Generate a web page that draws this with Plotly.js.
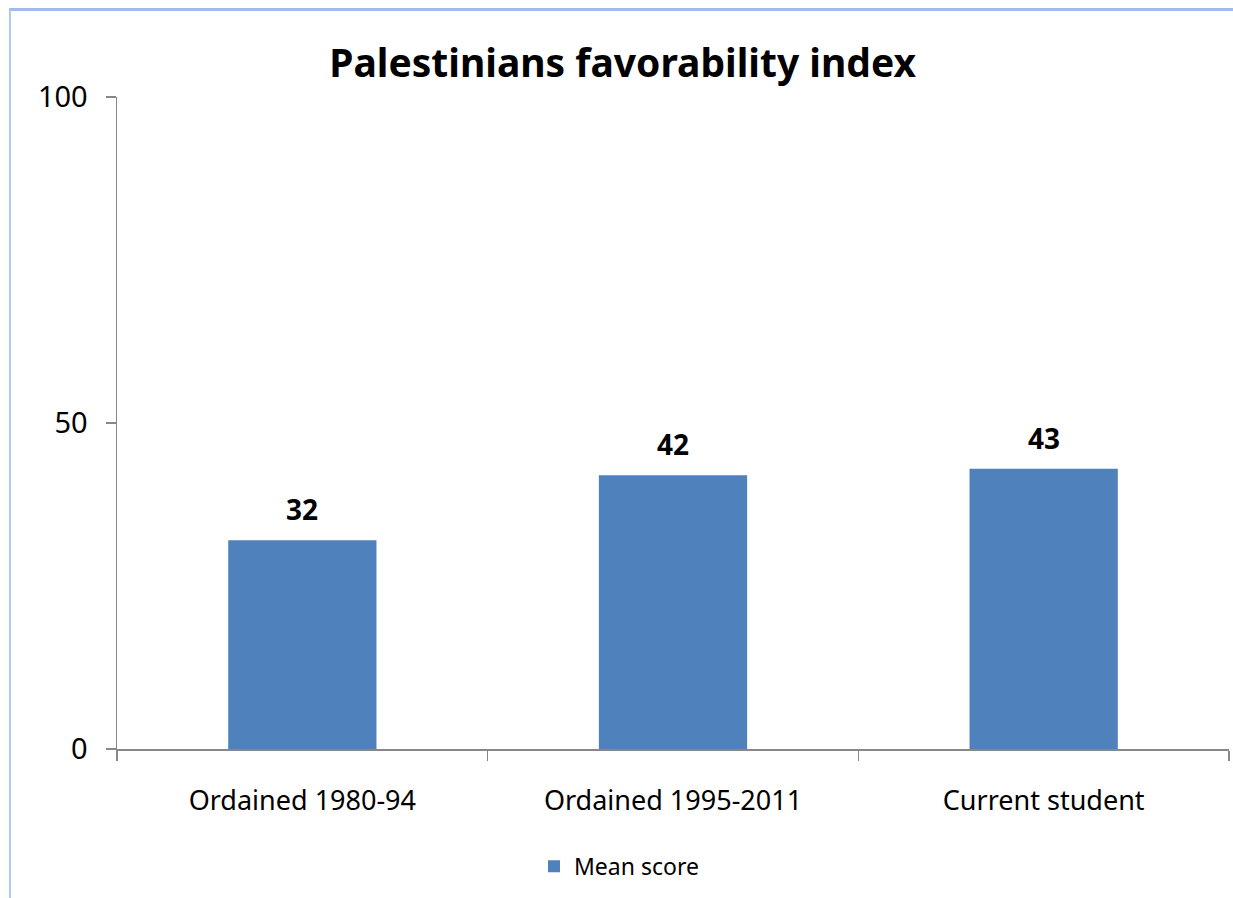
<!DOCTYPE html>
<html><head><meta charset="utf-8">
<script src="https://cdn.plot.ly/plotly-3.0.1.min.js"></script>
<style>
html,body{margin:0;padding:0;background:#fff;}
#wrap{position:relative;width:1233px;height:898px;overflow:hidden;}
#frame{position:absolute;left:9px;top:8px;width:1300px;height:1000px;border-left:2px solid #b3c8ee;border-top:3px solid #a0bbe8;box-sizing:border-box;}
#chart{position:absolute;left:0;top:0;width:1233px;height:898px;}
</style></head>
<body><div id="wrap"><div id="frame"></div><div id="chart"></div></div>
<script>
const categories = ["Ordained 1980-94", "Ordained 1995-2011", "Current student"];
const meanScore = [32, 42, 43];
const seriesName = "Mean score";
const yTicks = [0, 50, 100];

const font = "Noto Sans, Open Sans, sans-serif";
const trace = {
  type: "bar", x: categories, y: meanScore, name: seriesName,
  marker: {color: "#4f81bd"}, hoverinfo: "none"
};
const annotations = categories.map((c, i) => ({
  x: c, y: meanScore[i], xref: "x", yref: "y", text: "<b>" + meanScore[i] + "</b>",
  showarrow: false, yanchor: "bottom", yshift: 10,
  font: {family: font, size: 28, color: "#000"}
}));
const layout = {
  width: 1233, height: 898,
  paper_bgcolor: "rgba(0,0,0,0)", plot_bgcolor: "rgba(0,0,0,0)",
  margin: {l: 117, r: 4, t: 97, b: 149},
  title: {text: "<b>Palestinians favorability index</b>", font: {family: font, size: 39, color: "#000"},
          x: 0.505, xanchor: "center", y: 0.93, yanchor: "middle"},
  bargap: 0.6,
  showlegend: true,
  legend: {orientation: "h", x: 0.375, xanchor: "left", y: -0.18, yanchor: "middle",
           font: {family: font, size: 23, color: "#000"}},
  xaxis: {type: "category", showline: true, linecolor: "#888", linewidth: 2,
          ticks: "outside", tickson: "boundaries", ticklen: 10, tickcolor: "#888", tickwidth: 1.5,
          ticklabelstandoff: 27,
          tickfont: {family: font, size: 27, color: "#000"}, showgrid: false, zeroline: false,
          fixedrange: true},
  yaxis: {range: [0, 100], tickvals: yTicks, showline: true, linecolor: "#888", linewidth: 1.5,
          ticks: "outside", ticklen: 10, tickcolor: "#888", tickwidth: 1.5,
          ticklabelstandoff: 12,
          tickfont: {family: font, size: 29, color: "#000"}, showgrid: false, zeroline: false,
          fixedrange: true},
  annotations: annotations
};
Plotly.newPlot("chart", [trace], layout, {displayModeBar: false, staticPlot: true});
</script></body></html>
